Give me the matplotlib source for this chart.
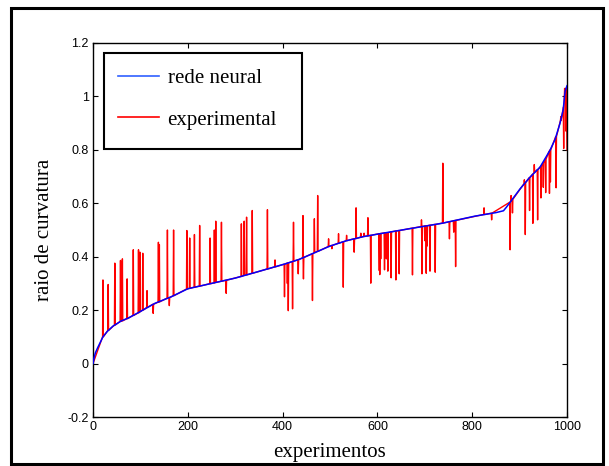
import matplotlib
matplotlib.use("Agg")
import matplotlib.pyplot as plt
from matplotlib.patches import Rectangle
from matplotlib.lines import Line2D

# Neural-network curve
net_x = [0, 2, 5, 10, 21, 30, 42, 60, 74, 95, 130, 165, 200, 250, 300, 350, 405,
         435, 465, 500, 535, 570, 605, 665, 736, 806, 850, 866, 872, 880, 901, 922,
         943, 964, 975, 985, 992, 996, 1000]
net_y = [0.0, 0.02, 0.04, 0.06, 0.10, 0.12, 0.14, 0.16, 0.17, 0.19, 0.225, 0.25,
         0.28, 0.30, 0.32, 0.345, 0.373, 0.39, 0.413, 0.44, 0.46, 0.475, 0.486,
         0.504, 0.525, 0.552, 0.565, 0.572, 0.585, 0.604, 0.654, 0.698, 0.735, 0.798,
         0.84, 0.898, 0.95, 1.02, 1.04]

# Experimental spikes: position, value at spike, value at its foot
spike_x = [21, 32, 46, 58, 60, 62, 72, 85, 96, 99, 105, 114, 127, 138, 140, 157,
           161, 170, 198, 204, 214, 225, 247, 256, 259, 271, 281, 313, 319, 324,
           336, 368, 384, 404, 410, 412, 421, 423, 433, 443, 444, 463, 467, 474,
           497, 504, 518, 528, 535, 551, 555, 565, 572, 580, 586, 604, 605, 607,
           615, 619, 622, 629, 639, 646, 674, 693, 694, 700, 703, 705, 711, 722,
           738, 752, 761, 765, 825, 841, 880, 882, 885, 910, 912, 921, 928, 931,
           938, 945, 950, 955, 963, 965, 977, 987, 993, 995, 998]
spike_y = [0.313, 0.296, 0.376, 0.386, 0.31, 0.392, 0.317, 0.426, 0.426, 0.417,
           0.413, 0.273, 0.188, 0.454, 0.445, 0.50, 0.217, 0.50, 0.498, 0.47,
           0.483, 0.517, 0.47, 0.50, 0.533, 0.529, 0.263, 0.523, 0.533, 0.548,
           0.573, 0.576, 0.388, 0.25, 0.30, 0.198, 0.205, 0.529, 0.336, 0.554,
           0.317, 0.236, 0.542, 0.629, 0.467, 0.43, 0.486, 0.286, 0.48, 0.417,
           0.583, 0.488, 0.488, 0.546, 0.301, 0.348, 0.333, 0.392, 0.351, 0.392,
           0.346, 0.321, 0.313, 0.336, 0.332, 0.538, 0.336, 0.46, 0.338, 0.44,
           0.346, 0.342, 0.75, 0.467, 0.492, 0.363, 0.583, 0.538, 0.426, 0.629,
           0.564, 0.688, 0.483, 0.573, 0.525, 0.745, 0.538, 0.62, 0.66, 0.64,
           0.637, 0.68, 0.658, 0.925, 0.805, 1.03, 0.87]
spike_base = [0.10, 0.124, 0.144, 0.158, 0.159, 0.16, 0.168, 0.18, 0.19, 0.194,
              0.20, 0.21, 0.222, 0.23, 0.231, 0.245, 0.247, 0.254, 0.279, 0.282,
              0.286, 0.29, 0.299, 0.302, 0.304, 0.308, 0.312, 0.326, 0.33, 0.332,
              0.338, 0.354, 0.362, 0.372, 0.376, 0.377, 0.382, 0.383, 0.389,
              0.396, 0.397, 0.411, 0.415, 0.42, 0.438, 0.442, 0.45, 0.456, 0.46,
              0.467, 0.468, 0.473, 0.476, 0.478, 0.48, 0.486, 0.486, 0.487,
              0.489, 0.49, 0.49, 0.493, 0.496, 0.498, 0.507, 0.513, 0.513, 0.515,
              0.516, 0.516, 0.518, 0.521, 0.526, 0.531, 0.534, 0.536, 0.558,
              0.563, 0.604, 0.61, 0.615, 0.673, 0.677, 0.696, 0.709, 0.715,
              0.726, 0.738, 0.75, 0.765, 0.795, 0.80, 0.85, 0.91, 0.96, 0.99, 1.03]
exp_start = (0, 0.0)
exp_end = (1000, 0.80)

x_ticks = [0, 200, 400, 600, 800, 1000]
y_ticks = [-0.2, 0, 0.2, 0.4, 0.6, 0.8, 1, 1.2]
y_tick_labels = ["-0.2", "0", "0.2", "0.4", "0.6", "0.8", "1", "1.2"]

# build red polyline
ex, ey = [exp_start[0]], [exp_start[1]]
hw = 0.8
for sx, sy, sb in zip(spike_x, spike_y, spike_base):
    ex += [sx - hw, sx, sx + hw]
    ey += [sb, sy, sb]
ex.append(exp_end[0]); ey.append(exp_end[1])

fig = plt.figure(figsize=(6.09, 4.66), dpi=100)
fig.patch.set_facecolor("white")
W, H = 609, 466
ax = fig.add_axes([93 / W, (H - 417) / H, 474 / W, 374 / H])

ax.plot(ex, ey, color="#ff0000", lw=1.0, zorder=2)
ax.plot(net_x, net_y, color="#0000ff", lw=1.1, zorder=3)

ax.set_xlim(0, 1000)
ax.set_ylim(-0.2, 1.2)
ax.set_xticks(x_ticks)
ax.set_yticks(y_ticks)
ax.set_yticklabels(y_tick_labels)
ax.tick_params(direction="in", length=3.5, width=0.8, top=True, right=True,
               labelsize=9, pad=3)
for lab in ax.get_xticklabels() + ax.get_yticklabels():
    lab.set_family("Liberation Sans")
for sp in ax.spines.values():
    sp.set_linewidth(1.0)

ax.set_xlabel("experimentos", family="Liberation Serif", fontsize=15, labelpad=7)
ax.set_ylabel("raio de curvatura", family="Liberation Serif", fontsize=15, labelpad=10)

handles = [Line2D([], [], color="#3060ff", lw=1.2), Line2D([], [], color="#ff0000", lw=1.2)]
leg = ax.legend(handles, ["rede neural", "experimental"], loc="upper left",
                bbox_to_anchor=(11 / 474, 1 - 12 / 374), borderaxespad=0,
                prop={"family": "Liberation Serif", "size": 15}, frameon=False,
                handlelength=2.0, handletextpad=0.4, labelspacing=1.05,
                borderpad=0.65)
leg.set_zorder(5)

# legend frame (white box with black border)
ax.add_patch(Rectangle(((104 - 93) / 474, (417 - 149) / 374), 198 / 474, 96 / 374,
                       transform=ax.transAxes, facecolor="white", edgecolor="black",
                       lw=1.5, zorder=4))

fig.patches.append(Rectangle((11 / W, 2 / H), 592 / W, 456 / H, transform=fig.transFigure,
                             fill=False, edgecolor="black", lw=2.2))

fig.savefig("out.png", dpi=100, facecolor="white")
